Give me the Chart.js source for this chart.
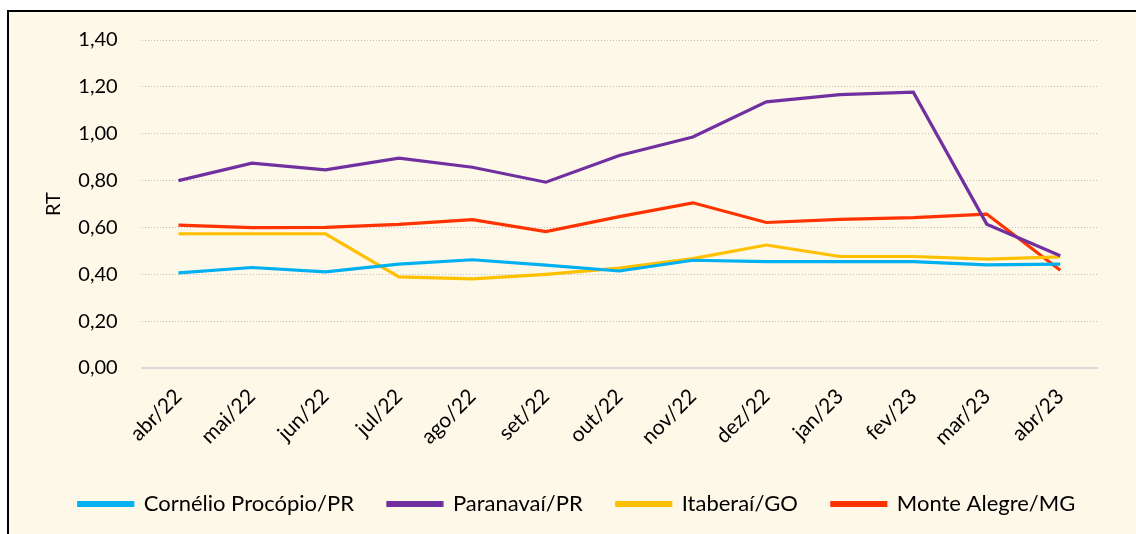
<!DOCTYPE html>
<html>
<head>
<meta charset="utf-8">
<script src="https://cdn.jsdelivr.net/npm/chart.js@4"></script>
<style>
  body { margin: 0; background: #ffffff; }
  #frame {
    position: absolute; left: 7px; top: 10px;
    width: 1127px; height: 522px;
    border-left: 2px solid #000; border-top: 2px solid #000;
    background: #fef8e9;
  }
  #rtChart { display: block; }
</style>
</head>
<body>
<div id="frame"><canvas id="rtChart" width="1127" height="522"></canvas></div>
<script>
const meses = ['abr/22', 'mai/22', 'jun/22', 'jul/22', 'ago/22', 'set/22', 'out/22',
               'nov/22', 'dez/22', 'jan/23', 'fev/23', 'mar/23', 'abr/23'];

const cornelio = [0.406, 0.429, 0.410, 0.443, 0.462, 0.439, 0.414, 0.460, 0.454, 0.454, 0.454, 0.440, 0.443];
const paranavai = [0.800, 0.874, 0.846, 0.896, 0.857, 0.793, 0.907, 0.986, 1.136, 1.167, 1.177, 0.614, 0.479];
const itaberai = [0.573, 0.573, 0.573, 0.389, 0.380, 0.400, 0.426, 0.467, 0.525, 0.476, 0.476, 0.465, 0.474];
const monteAlegre = [0.610, 0.599, 0.600, 0.613, 0.633, 0.582, 0.646, 0.705, 0.621, 0.634, 0.642, 0.657, 0.417];

const yTicks = [0, 0.2, 0.4, 0.6, 0.8, 1.0, 1.2, 1.4];

const fonte = 'Lato, "Liberation Sans", sans-serif';

function serie(label, data, cor) {
    return {
        label: label,
        data: data,
        borderColor: cor,
        backgroundColor: cor,
        borderWidth: 3.2,
        pointRadius: 0,
        pointHoverRadius: 0,
        tension: 0,
        fill: false
    };
}

// empurra a legenda um pouco para a direita, como no original
const moveLegenda = {
    id: 'moveLegenda',
    afterLayout(chart) {
        chart.legend.left += 24;
        chart.legend.right += 24;
    }
};

new Chart(document.getElementById('rtChart'), {
    type: 'line',
    data: {
        labels: meses,
        datasets: [
            serie('Cornélio Procópio/PR', cornelio, '#00b0f0'),
            serie('Paranavaí/PR', paranavai, '#7030a0'),
            serie('Itaberaí/GO', itaberai, '#ffc000'),
            serie('Monte Alegre/MG', monteAlegre, '#ff3300')
        ]
    },
    plugins: [moveLegenda],
    options: {
        responsive: false,
        animation: false,
        layout: { padding: { left: 0, right: 39, top: 28, bottom: 9 } },
        plugins: {
            tooltip: { enabled: false },
            legend: {
                position: 'bottom',
                labels: {
                    font: { family: fonte, size: 22 },
                    color: '#000',
                    boxWidth: 54,
                    boxHeight: 3,
                    padding: 34
                }
            }
        },
        scales: {
            x: {
                offset: true,
                afterFit: function(scale) { scale.height = 91; },
                grid: { display: false },
                border: { display: true, color: '#d9d9d9', width: 2 },
                ticks: {
                    font: { family: fonte, size: 21 },
                    color: '#000',
                    minRotation: 45,
                    maxRotation: 45,
                    padding: 8,
                    autoSkip: false
                }
            },
            y: {
                min: 0,
                max: 1.4,
                afterFit: function(scale) {
                    scale.width = 132.7;
                    scale.paddingTop = 0;
                    scale.paddingBottom = 0;
                },
                afterBuildTicks: function(scale) {
                    scale.ticks = yTicks.map(v => ({ value: v }));
                },
                grid: {
                    drawTicks: false,
                    color: ctx => ctx.tick && ctx.tick.value === 0 ? 'rgba(0,0,0,0)' : '#bfbfbf',
                    lineWidth: 1
                },
                border: { display: false, dash: [1, 2] },
                ticks: {
                    font: { family: fonte, size: 20 },
                    color: '#000',
                    padding: 24,
                    callback: v => v.toFixed(2).replace('.', ',')
                },
                title: {
                    display: true,
                    text: 'RT',
                    font: { family: fonte, size: 20 },
                    color: '#000',
                    padding: { top: 33, bottom: 0 }
                }
            }
        }
    }
});
</script>
</body>
</html>
